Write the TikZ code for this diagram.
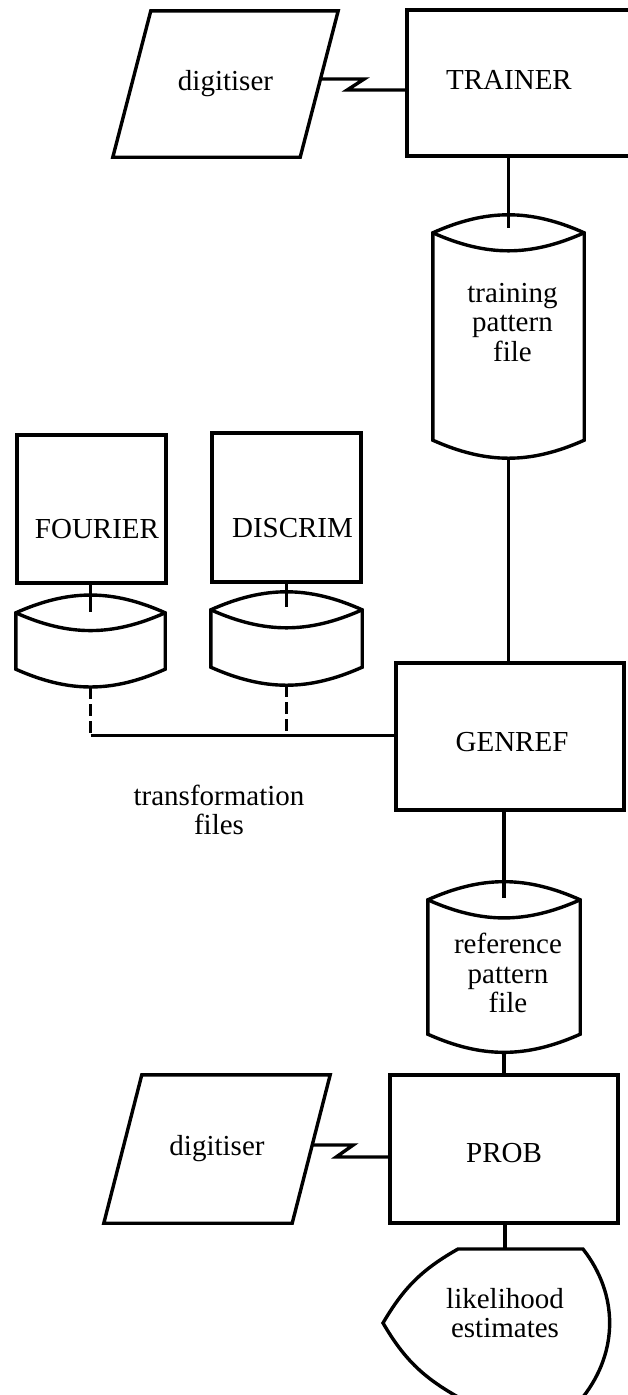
\documentclass[tikz,border=0pt]{standalone}
\usepackage{fontspec}
\setmainfont{Liberation Serif}

\tikzset{
  box/.style={draw, line width=3.4pt, inner sep=0pt},
  store/.style={inner sep=0pt},
  wire/.style={line width=3.4pt},
  dwire/.style={wire, dash pattern=on 12pt off 5pt},
  txt/.style={align=center},
}

\begin{document}
\begin{tikzpicture}[x=1pt, y=1pt, font=\fontsize{29}{29.5}\selectfont]
    \useasboundingbox (0,0) rectangle (627,-1395);
    \node[store, minimum width=225pt, minimum height=146pt] (digtop) at (225.5,-84) {digitiser};
    \node[box, minimum width=233pt, minimum height=146pt,
        label={[xshift=-14.5pt, yshift=3pt]center:TRAINER}] (trainer) at (523.5,-83) {};
    \node[store, minimum width=151pt, minimum height=243pt,
        label={[txt, xshift=4pt, yshift=14pt]center:training\\pattern\\file}] (tpf) at (508.5,-336.5) {};
    \node[box, minimum width=149pt, minimum height=148pt,
        label={[xshift=5.5pt, yshift=-20pt]center:FOURIER}] (fourier) at (91.5,-509) {};
    \node[box, minimum width=149pt, minimum height=149pt,
        label={[xshift=6pt, yshift=-20.5pt]center:DISCRIM}] (discrim) at (286.5,-507.5) {};
    \node[store, minimum width=149pt, minimum height=92pt] (fcyl) at (90.5,-641) {};
    \node[store, minimum width=151pt, minimum height=93pt] (dcyl) at (286.5,-638.5) {};
    \node[box, minimum width=228pt, minimum height=147pt,
        label={[xshift=2pt, yshift=-5.5pt]center:GENREF}] (genref) at (510,-736.5) {};
    \node[txt] (tfiles) at (219,-810) {transformation\\files};
    \node[store, minimum width=152pt, minimum height=170pt,
        label={[txt, xshift=4pt, yshift=-6pt]center:reference\\pattern\\file}] (rpf) at (504,-967) {};
    \node[store, minimum width=226pt, minimum height=148pt] (digbot) at (217,-1149) {digitiser};
    \node[box, minimum width=228pt, minimum height=148pt,
        label={[yshift=-4pt]center:PROB}] (prob) at (504,-1149) {};
    \node[store, minimum width=10pt, minimum height=148pt,
        label={[txt, yshift=10pt]center:likelihood\\estimates}] (disp) at (505,-1323) {};

    % input slabs, file drums and display
    \foreach \d in {digtop,digbot}{
        \draw[wire] ([xshift=38pt]\d.north west) -- (\d.north east)
            -- ([xshift=-38pt]\d.south east) -- (\d.south west) -- cycle;
    }
    \foreach \c in {tpf,rpf,fcyl,dcyl}{
        \draw[wire] ([yshift=-18pt]\c.north west) to[bend left=24] ([yshift=-18pt]\c.north east)
            -- ([yshift=18pt]\c.south east) to[bend left=24] ([yshift=18pt]\c.south west) -- cycle;
        \draw[wire] ([yshift=-18pt]\c.north west) to[bend right=24] ([yshift=-18pt]\c.north east);
    }
    \draw[wire] (458,-1249) -- (583,-1249) to[bend left=38] (583,-1397)
        -- (458,-1397) to[bend left=15] (383,-1323) to[bend left=15] (458,-1249) -- cycle;

    \draw[wire] ([xshift=-19pt, yshift=5pt]digtop.east) -- ++(45,0) -- ++(-17,-11) -- ([yshift=-7pt]trainer.west);
    \draw[wire] (tpf.north |- trainer.south) -- ([yshift=-13pt]tpf.north);
    \draw[wire] (tpf.south) -- (tpf.south |- genref.north);
    \draw[wire] (fcyl.north |- fourier.south) -- ([yshift=-17pt]fcyl.north);
    \draw[wire] (dcyl.north |- discrim.south) -- ([yshift=-15pt]dcyl.north);
    \draw[dwire] (fcyl.south) -- ++(0,-48) coordinate (fjoin);
    \draw[dwire] (dcyl.south) -- (dcyl.south |- fjoin);
    \draw[wire] (fjoin) -- (genref.west |- fjoin);
    \draw[wire] (rpf.north |- genref.south) -- ([yshift=-16pt]rpf.north);
    \draw[wire] (rpf.south) -- (rpf.south |- prob.north);
    \draw[wire] ([xshift=-19pt, yshift=4pt]digbot.east) -- ++(42,0) -- ++(-17,-12) -- ([yshift=-8pt]prob.west);
    \draw[wire] (disp.north |- prob.south) -- (disp.north);
\end{tikzpicture}
\end{document}
